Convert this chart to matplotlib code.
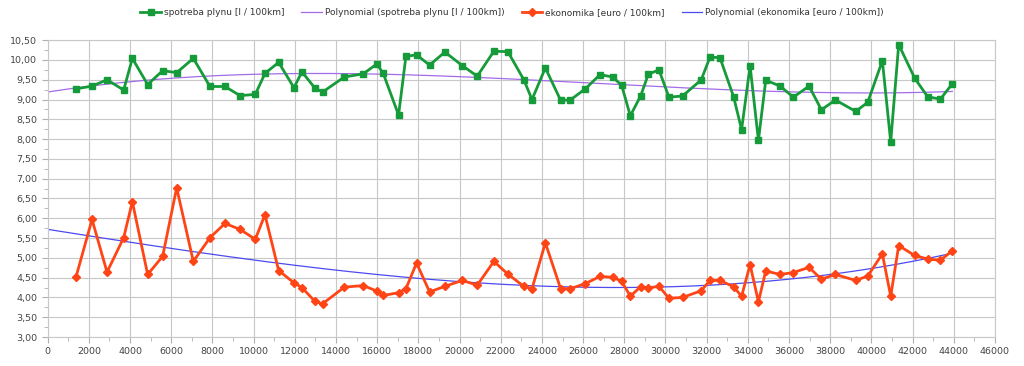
import numpy as np
import matplotlib
matplotlib.use('Agg')
import matplotlib.pyplot as plt
from matplotlib.ticker import MultipleLocator, FuncFormatter

# km stav
km = [1375, 2152, 2880, 3689, 4110, 4854, 5583, 6262, 7071, 7880,
      8608, 9337, 10081, 10550, 11214, 11958, 12346, 12977, 13350, 14401,
      15324, 15987, 16294, 17039, 17395, 17913, 18544, 19288, 20129, 20858,
      21667, 22346, 23123, 23519, 24167, 24911, 25380, 26108, 26820, 27435,
      27872, 28293, 28794, 29167, 29684, 30170, 30833, 31739, 32160, 32646,
      33309, 33698, 34110, 34515, 34871, 35567, 36214, 36974, 37573, 38252,
      39239, 39822, 40534, 40939, 41327, 42104, 42735, 43350, 43932]

spotreba = [9.27, 9.34, 9.50, 9.24, 10.04, 9.38, 9.73, 9.68, 10.04, 9.33,
            9.33, 9.10, 9.13, 9.66, 9.94, 9.30, 9.70, 9.29, 9.19, 9.57,
            9.65, 9.90, 9.66, 8.61, 10.09, 10.13, 9.87, 10.20, 9.86, 9.59,
            10.22, 10.21, 9.50, 9.00, 9.80, 8.98, 8.99, 9.27, 9.63, 9.57,
            9.36, 8.59, 9.09, 9.64, 9.75, 9.06, 9.09, 9.50, 10.07, 10.06,
            9.07, 8.24, 9.85, 7.97, 9.49, 9.34, 9.06, 9.34, 8.74, 8.99,
            8.70, 8.93, 9.98, 7.93, 10.39, 9.54, 9.07, 9.01, 9.40]

ekonomika = [4.52, 5.97, 4.64, 5.51, 6.42, 4.58, 5.04, 6.77, 4.91, 5.51,
             5.87, 5.72, 5.47, 6.09, 4.68, 4.37, 4.25, 3.90, 3.84, 4.26,
             4.30, 4.16, 4.05, 4.12, 4.22, 4.87, 4.14, 4.28, 4.43, 4.31,
             4.91, 4.59, 4.28, 4.22, 5.38, 4.22, 4.22, 4.35, 4.53, 4.51,
             4.41, 4.03, 4.27, 4.24, 4.28, 3.98, 4.00, 4.17, 4.43, 4.43,
             4.27, 4.03, 4.83, 3.89, 4.67, 4.58, 4.63, 4.76, 4.46, 4.58,
             4.43, 4.54, 5.10, 4.03, 5.31, 5.06, 4.97, 4.94, 5.18]

label_sp = 'spotreba plynu [l / 100km]'
label_ek = 'ekonomika [euro / 100km]'

fig = plt.figure(figsize=(10.24, 3.66), dpi=100)
ax = fig.add_axes([0.0466, 0.0792, 0.925, 0.811])

# polynomial trendline like in calc
xt = np.linspace(0, max(km), 300)
p_sp = np.polyfit(km, spotreba, 3)
p_ek = np.polyfit(km, ekonomika, 3)

ax.plot(km, spotreba, color='#169b3a', linestyle='-', marker='s', markersize=5,
        linewidth=2, label=label_sp, zorder=3)
ax.plot(xt, np.polyval(p_sp, xt), color='#a46be8', linewidth=0.9,
        label='Polynomial (' + label_sp + ')', zorder=2)
ax.plot(km, ekonomika, color='#ff4516', linestyle='-', marker='D', markersize=4.5,
        linewidth=2, label=label_ek, zorder=3)
ax.plot(xt, np.polyval(p_ek, xt), color='#4b4bf0', linewidth=0.9,
        label='Polynomial (' + label_ek + ')', zorder=2)

ax.set_xlim(0, 46000)
ax.set_ylim(3, 10.5)
ax.xaxis.set_major_locator(MultipleLocator(2000))
ax.xaxis.set_minor_locator(MultipleLocator(1000))
ax.yaxis.set_major_locator(MultipleLocator(0.5))
ax.yaxis.set_minor_locator(MultipleLocator(0.25))
ax.yaxis.set_major_formatter(FuncFormatter(lambda v, p: ('%.2f' % v).replace('.', ',')))
ax.grid(True, which='major', color='#c8c8c8', linewidth=0.8)
ax.set_axisbelow(True)
for s in ax.spines.values():
    s.set_color('#c8c8c8')
ax.tick_params(axis='both', which='both', colors='#b0b0b0', labelcolor='#444444',
               labelsize=6.8, direction='out')
ax.tick_params(axis='both', which='major', length=4)
ax.tick_params(axis='both', which='minor', length=3)

fig.legend(loc='upper center', bbox_to_anchor=(0.5, 1.0), ncol=4, frameon=False,
           fontsize=6.5, handlelength=2.3, columnspacing=1.9, handletextpad=0.3,
           labelcolor='#333333')

fig.savefig('out.png', dpi=100)
